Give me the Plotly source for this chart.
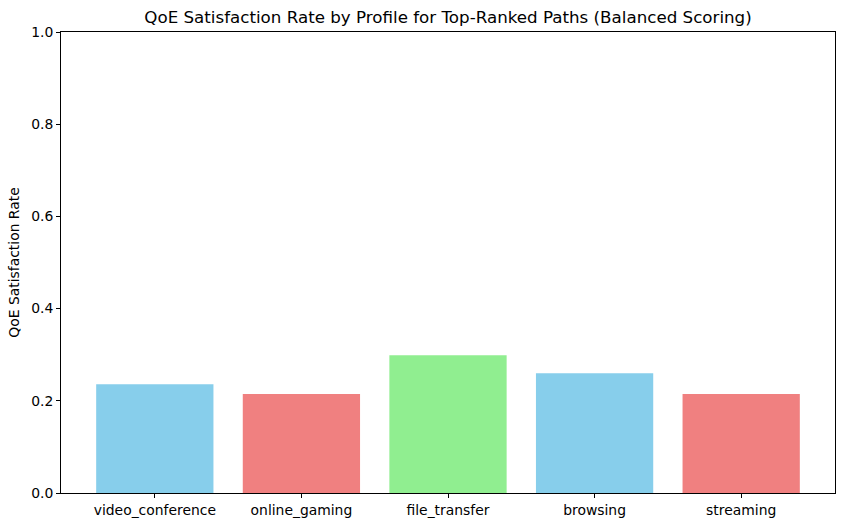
import plotly.graph_objects as go

profiles = ["video_conference", "online_gaming", "file_transfer", "browsing", "streaming"]
satisfaction = [0.236, 0.215, 0.299, 0.260, 0.215]
colors = ["#87CEEB", "#F08080", "#90EE90", "#87CEEB", "#F08080"]
y_ticks = [0.0, 0.2, 0.4, 0.6, 0.8, 1.0]

fig = go.Figure(go.Bar(x=profiles, y=satisfaction, marker=dict(color=colors, line=dict(width=0)),
                       width=0.8))

axis_common = dict(showline=True, linecolor="black", linewidth=1, mirror=True,
                   ticks="outside", ticklen=4, tickcolor="black", showgrid=False,
                   zeroline=False, tickfont=dict(size=13.9, color="black"))

fig.update_xaxes(range=[-0.64, 4.64], **axis_common)
fig.update_yaxes(range=[0, 1.0], tickvals=y_ticks, ticktext=[f"{v:.1f}" for v in y_ticks],
                 title=dict(text="QoE Satisfaction Rate", font=dict(size=13.9, color="black"), standoff=8),
                 **axis_common)

W, H = 846, 528
fig.update_layout(
    width=W, height=H,
    margin=dict(l=61, r=10, t=32, b=32),
    paper_bgcolor="white", plot_bgcolor="white",
    font=dict(family="DejaVu Sans", size=13.9, color="black"),
    title=dict(text="QoE Satisfaction Rate by Profile for Top-Ranked Paths (Balanced Scoring)",
               x=448 / W, xanchor="center", y=1 - 17 / H, yanchor="middle",
               font=dict(size=16.7, color="black")),
    showlegend=False,
    hovermode=False,
)

fig.write_html("out.html",
               config={"displayModeBar": False, "staticPlot": True},
               post_script="document.body.style.margin='0px';document.documentElement.style.overflow='hidden';")
